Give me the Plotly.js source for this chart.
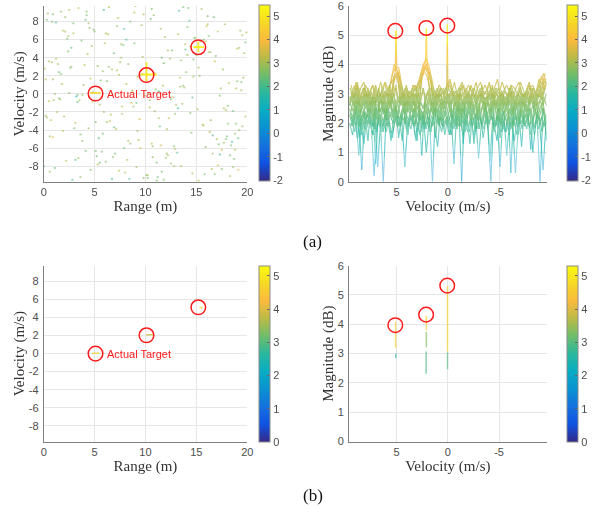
<!DOCTYPE html>
<html><head><meta charset="utf-8">
<script src="https://cdn.plot.ly/plotly-3.0.1.min.js"></script>
<style>html,body{margin:0;padding:0;background:#fff}#chart{width:597px;height:514px}</style>
</head><body><div id="chart"></div>
<script>
// ---------- (a) left: range-velocity map, sparse noise cells ----------
const noiseRange = [
0.4,3.1,7.8,12.5,18.2,1.6,5.9,9.3,14.7,19.1,2.3,6.6,11.2,16.4,0.9,4.5,8.7,13.1,17.6,10.4,
15.8,3.7,7.1,19.6,1.2,12.9,5.3,9.9,14.2,18.8,0.7,4.1,8.2,11.7,16.9,2.8,6.3,13.6,17.2,10.9,
19.3,1.9,5.6,9.1,14.9,3.3,7.5,12.2,16.1,0.3,18.5,4.8,8.9,11.4,15.3,2.1,6.8,13.9,17.9,10.1,
1.4,5.1,9.6,12.7,16.6,3.9,7.3,14.4,19.8,0.6,18.1,4.3,8.4,11.9,15.6,2.6,6.1,13.3,17.4,10.7,
19.0,1.1,5.8,9.4,14.1,3.5,7.9,12.4,16.3,0.8,18.7,4.6,8.1,11.1,15.1,2.4,6.5,13.7,17.7,10.3,
1.7,5.4,9.8,12.1,16.8,3.2,7.6,14.6,19.4,0.2,18.3,4.9,8.6,11.6,15.9,2.9,6.9,13.4,17.1,10.6,
19.7,1.3,5.2,9.2,14.3,3.6,7.2,12.8,16.2,0.5,18.9,4.2,8.3,11.3,15.4,2.2,6.4,13.2,17.8,10.2,
1.8,5.7,9.7,12.3,16.7,3.8,7.4,14.8,19.2,0.1,18.4,4.4,8.8,11.8,15.2,2.7,6.2,13.8,17.3,10.8,
19.5,1.5,5.5,9.5,14.5,3.4,7.7,12.6,16.5,0.9,18.6,4.7,8.5,11.5,15.7,2.5,6.7,13.5,17.5,10.5,
1.0,3.0,6.0,12.0,14.0,16.0,18.0,8.0,11.0,19.9,2.0,4.0,7.0,9.0,13.0,15.0,17.0,19.0,0.0,5.0,
0.6,2.9,5.5,8.3,11.6,13.9,16.4,18.9,1.7,4.1,7.4,9.8,12.2,14.6,17.1,19.5,0.3,3.4,6.2,10.6,
12.9,15.5,18.3,1.2,4.8,7.9,9.2,13.4,16.8,19.2,2.4,5.1,8.7,11.1,14.1,17.7,0.9,3.8,6.7,10.2,
12.5,15.9,18.6,1.5,4.4,7.2,9.5,13.7,16.2,19.8,2.1,5.8,8.1,11.8,14.9,17.3,0.5,3.1,6.4,10.9,
12.8,15.2,18.1,1.9,4.6,7.6,9.1,13.2,16.6,19.4,2.7,5.3,8.5,11.3,14.4,17.9,0.2,3.6,6.9,10.4,
12.1,15.7,18.8,1.1,4.2,7.7,9.7,13.5,16.1,19.1,2.5,5.9,8.9,11.5,14.7,17.5,0.8,3.3,6.1,10.7];
const noiseVel = [
8.9,-3.2,5.4,-7.7,1.2,-0.6,9.3,-5.1,3.8,-8.4,6.1,-2.3,-9.2,4.6,-4.8,7.3,0.4,-6.5,2.7,-1.5,
-8.9,5.9,-3.9,1.8,7.9,-6.1,3.1,-0.2,9.5,-4.4,-2.9,8.2,-7.3,0.9,4.2,-9.5,6.6,-1.1,-5.6,2.3,
7.0,-4.1,1.5,-8.1,5.2,-0.9,3.5,-6.8,8.6,-2.6,-5.3,0.2,9.0,-3.6,2.0,6.9,-7.0,4.9,-1.8,-9.0,
3.3,-6.3,7.6,-0.4,-4.6,1.0,8.4,-2.1,5.7,-8.6,-1.3,4.4,-9.4,6.3,-3.4,2.9,-7.5,9.2,0.6,-5.8,
5.0,-8.2,2.5,-2.8,7.4,-0.7,-6.0,3.9,-4.2,8.0,-7.2,1.7,6.0,-9.6,-1.7,4.7,-3.0,9.6,-5.4,0.0,
2.2,-4.9,8.8,-6.6,3.6,-0.3,5.5,-8.8,1.3,-2.4,-9.1,7.1,-1.0,4.0,-5.9,6.7,-3.7,0.8,-7.9,9.4,
4.5,-2.0,-6.9,1.9,8.1,-4.5,2.6,-8.0,6.4,-0.8,-3.3,9.1,-5.2,0.3,5.8,-7.4,3.0,-1.6,7.7,-9.3,
1.1,-6.4,4.1,-2.7,8.5,-0.1,-8.5,6.2,-4.0,2.8,-5.7,7.8,-1.4,3.4,-9.6,5.1,-3.1,0.7,-6.7,8.7,
6.5,-0.5,-7.6,2.1,-4.3,9.5,-2.2,4.8,-8.3,1.6,-1.9,5.3,-5.5,7.2,-3.5,0.1,-9.4,3.7,-6.2,8.3,
-0.7,-3.8,5.6,-7.1,2.4,7.5,-4.7,-8.7,0.5,6.8,-2.5,3.2,-6.6,9.7,-1.2,4.3,-5.0,1.4,-8.0,6.9,
-4.7,7.8,-1.2,3.3,-8.6,5.5,-2.9,0.6,9.1,-6.3,2.1,-9.3,4.8,-0.4,6.9,-3.6,8.2,-7.1,1.4,-5.5,
-2.2,9.4,-6.8,3.9,-0.9,7.2,-4.1,1.8,-8.9,5.1,6.4,-3.1,0.2,-7.6,4.3,-1.6,8.8,-5.2,2.7,-9.0,
-0.6,5.8,-8.1,2.4,-3.8,7.5,-6.0,0.9,4.6,-2.5,8.5,-4.4,1.1,-9.5,6.2,-0.2,3.6,-7.3,9.6,-1.9,
-5.8,2.9,-3.3,7.0,-8.4,4.0,-1.0,6.6,-6.6,0.4,3.0,-7.8,8.0,-2.7,5.3,-5.0,1.6,-9.2,4.5,-0.7,
-3.9,6.0,-6.2,0.0,8.7,-1.4,2.2,-8.0,7.7,-4.9,9.3,-2.0,5.6,-5.7,1.9,-8.3,3.5,-0.1,6.7,-7.0];
const noiseMag = [
2.8,3.1,2.4,2.9,3.3,2.6,1.9,3.0,2.7,3.4,2.5,3.2,2.2,2.9,3.5,2.7,3.0,2.1,2.8,3.3,
2.6,2.4,3.1,2.9,1.8,3.2,2.7,3.0,2.5,2.8,3.4,2.3,2.9,3.1,2.6,2.0,3.3,2.8,2.4,3.0,
2.7,3.2,2.5,2.9,3.6,2.2,2.8,3.1,2.6,3.0,1.7,2.9,3.3,2.4,2.7,3.1,2.8,2.3,3.2,2.6,
3.0,2.5,2.9,3.4,2.1,2.8,3.2,2.7,2.4,3.0,2.6,3.3,2.2,2.9,3.1,2.5,2.8,1.9,3.0,2.7,
3.2,2.4,2.8,3.5,2.6,3.0,2.3,2.9,3.1,2.7,2.5,3.2,2.0,2.8,3.0,2.6,3.4,2.4,2.9,3.1,
2.7,2.3,3.0,2.8,3.3,1.6,2.9,3.1,2.5,2.8,3.0,2.6,3.2,2.4,2.7,3.1,2.2,2.9,3.4,2.6,
2.8,3.0,2.5,3.2,2.1,2.7,3.0,2.9,2.4,3.3,2.6,2.8,3.1,2.3,2.9,3.2,2.7,1.8,3.0,2.5,
3.1,2.6,2.9,3.4,2.4,2.8,3.0,2.2,2.7,3.2,2.5,3.0,2.8,2.6,3.3,2.3,2.9,3.1,2.0,2.8,
3.2,2.7,2.4,3.0,2.6,3.5,2.8,2.5,3.1,2.9,2.3,3.0,2.7,2.9,3.2,2.6,1.7,2.8,3.4,2.4,
3.0,2.5,3.1,2.8,2.6,3.3,2.2,2.9,2.7,3.0,2.8,3.2,2.4,3.1,2.9,2.5,3.0,2.6,2.3,2.7,
2.9,2.5,3.1,2.7,2.3,3.0,2.8,3.3,2.6,2.4,3.1,2.7,2.9,2.2,3.2,2.8,2.5,3.0,2.6,3.4,
2.7,3.0,2.4,2.9,3.2,2.1,2.8,3.1,2.6,2.9,3.0,2.6,3.3,2.5,2.8,3.1,2.4,2.7,3.0,2.9,
2.6,3.2,2.8,2.3,3.0,2.7,3.4,2.5,2.9,3.1,2.8,2.4,3.0,2.7,3.2,2.6,2.9,1.9,3.1,2.8,
2.5,3.0,2.7,3.3,2.6,2.9,2.4,3.1,2.8,3.0,2.7,3.2,2.5,2.9,3.0,2.6,3.3,2.8,2.4,3.1,
2.9,2.6,3.0,2.8,2.5,3.2,2.7,2.9,3.1,2.3,3.0,2.8,2.6,3.4,2.9,2.7,3.1,2.5,3.0,2.8];
// target cells (cross-shaped spread), segments separated by null
const tlSegR = [4.55,5.6,null, 9.56,11.1,null, 10.1,10.1,null, 14.7,15.75,null, 15.19,15.19];
const tlSegV = [0.1,0.1,null, 2.14,2.14,null, 1.4,3.5,null, 5.16,5.16,null, 4.6,5.8];
const tlSegMag = [4.6, 5.1, 5.0, 5.2, 5.0];
const tlCircR = [5.09, 10.1, 15.19];
const tlCircV = [0.04, 2.08, 5.16];

// ---------- (a) right: magnitude vs velocity profiles ----------
const velA = [9.6,9.3,9.0,8.7,8.4,8.1,7.8,7.5,7.2,6.9,6.6,6.3,6.0,5.7,5.4,5.1,4.8,4.5,4.2,3.9,
3.6,3.3,3.0,2.7,2.4,2.1,1.8,1.5,1.2,0.9,0.6,0.3,0.0,-0.3,-0.6,-0.9,-1.2,-1.5,-1.8,-2.1,
-2.4,-2.7,-3.0,-3.3,-3.6,-3.9,-4.2,-4.5,-4.8,-5.1,-5.4,-5.7,-6.0,-6.3,-6.6,-6.9,-7.2,-7.5,-7.8,-8.1,
-8.4,-8.7,-9.0,-9.3,-9.6];
const velB = [9.45,9.15,8.85,8.55,8.25,7.95,7.65,7.35,7.05,6.75,6.45,6.15,5.85,5.55,5.25,4.95,4.65,4.35,4.05,3.75,
3.45,3.15,2.85,2.55,2.25,1.95,1.65,1.35,1.05,0.75,0.45,0.15,-0.15,-0.45,-0.75,-1.05,-1.35,-1.65,-1.95,-2.25,
-2.55,-2.85,-3.15,-3.45,-3.75,-4.05,-4.35,-4.65,-4.95,-5.25,-5.55,-5.85,-6.15,-6.45,-6.75,-7.05,-7.35,-7.65,-7.95,-8.25,
-8.55,-8.85,-9.15,-9.45];
const velC = [9.55,9.25,8.95,8.65,8.35,8.05,7.75,7.45,7.15,6.85,6.55,6.25,5.95,5.65,5.35,5.05,4.75,4.45,4.15,3.85,
3.55,3.25,2.95,2.65,2.35,2.05,1.75,1.45,1.15,0.85,0.55,0.25,-0.05,-0.35,-0.65,-0.95,-1.25,-1.55,-1.85,-2.15,
-2.45,-2.75,-3.05,-3.35,-3.65,-3.95,-4.25,-4.55,-4.85,-5.15,-5.45,-5.75,-6.05,-6.35,-6.65,-6.95,-7.25,-7.55,-7.85,-8.15,
-8.45,-8.75,-9.05,-9.35,-9.65];
const velD = [9.4,9.1,8.8,8.5,8.2,7.9,7.6,7.3,7.0,6.7,6.4,6.1,5.8,5.5,5.2,4.9,4.6,4.3,4.0,3.7,
3.4,3.1,2.8,2.5,2.2,1.9,1.6,1.3,1.0,0.7,0.4,0.1,-0.2,-0.5,-0.8,-1.1,-1.4,-1.7,-2.0,-2.3,
-2.6,-2.9,-3.2,-3.5,-3.8,-4.1,-4.4,-4.7,-5.0,-5.3,-5.6,-5.9,-6.2,-6.5,-6.8,-7.1,-7.4,-7.7,-8.0,-8.3,
-8.6,-8.9,-9.2,-9.5];
const prof1 = [2.7,3.1,2.4,2.9,1.6,2.8,3.2,2.5,2.9,2.2,3.0,2.6,2.1,3.3,2.7,2.4,2.9,3.1,2.3,2.8,
2.5,3.0,1.4,2.7,3.2,2.6,2.9,2.3,3.1,2.5,2.8,2.2,3.0,2.6,2.9,1.8,3.2,2.4,2.7,3.0,
2.5,2.9,2.1,3.3,2.6,2.8,2.3,3.1,2.7,1.5,2.9,2.5,3.2,2.7,2.4,3.0,2.6,2.8,2.2,3.1,2.5,2.9,3.3,2.6,3.0];
const prof2 = [2.4,2.9,3.3,2.6,2.2,3.0,2.7,1.9,2.8,3.2,2.5,2.9,2.3,3.1,2.6,2.0,2.8,3.0,2.4,2.7,
3.2,2.5,2.9,1.7,2.6,3.1,2.8,2.3,3.0,2.5,2.7,3.2,2.4,2.9,2.6,3.0,2.2,2.8,3.1,2.5,
1.3,2.7,3.0,2.6,2.9,2.3,3.2,2.5,2.8,3.0,2.4,2.7,3.1,1.9,2.9,2.6,3.0,2.4,2.8,3.2,2.6,2.9,3.4,3.1];
const prof3 = [2.0,1.6,2.4,0.9,2.2,1.8,2.5,2.1,0.2,1.9,2.3,1.7,2.6,2.0,1.5,2.4,1.9,2.2,0.5,2.1,
1.8,2.5,2.0,1.6,2.3,1.0,2.2,1.9,2.6,2.1,1.7,2.4,2.0,2.3,1.8,2.5,2.1,1.6,2.2,2.6,
1.9,2.3,0.8,2.1,2.5,1.8,2.2,2.0,1.4,2.4,2.1,1.7,2.5,2.2,0.3,2.0,2.4,1.9,2.3,1.6,2.2,2.6,1.8,0.4,2.1];
const prof4 = [3.1,2.8,3.4,2.9,3.2,2.6,3.0,3.3,2.7,3.1,2.9,3.4,2.8,3.4,4.0,3.8,3.4,2.9,3.3,2.6,
3.0,3.2,3.3,3.8,4.1,3.9,3.5,2.7,3.2,2.9,3.1,2.8,3.4,3.0,2.6,3.2,2.9,3.1,2.8,3.3,
3.0,2.7,3.2,2.9,3.1,3.4,2.8,3.0,3.2,2.7,3.1,2.9,3.3,3.0,2.8,3.2,2.9,3.1,3.4,3.0,2.8,3.3,3.6,3.2];
const prof5 = [2.5,2.2,2.8,1.9,2.6,2.3,1.4,2.7,2.4,2.9,2.1,0.0,2.5,2.8,2.2,2.6,1.9,2.4,2.7,1.6,
2.5,2.2,2.9,2.4,1.8,2.6,2.3,2.7,1.5,2.5,2.1,2.8,2.4,1.9,2.6,2.2,2.7,1.3,2.5,2.8,
2.3,1.7,2.6,2.4,2.9,2.1,0.0,2.5,2.7,2.2,1.8,2.6,2.3,2.8,2.4,1.6,2.7,2.2,2.5,1.1,2.6,2.3,2.8,2.4,2.1];
const prof6 = [2.9,2.6,3.2,2.3,2.8,3.0,2.5,2.9,0.6,2.7,3.1,2.4,2.8,2.6,3.0,2.2,2.9,2.7,3.1,2.5,
2.8,3.0,2.6,0.9,2.7,3.1,2.4,2.9,2.6,3.2,2.5,2.8,3.0,2.3,2.9,2.7,0.0,2.6,3.0,2.8,
2.4,2.9,3.1,2.5,2.7,3.0,2.6,2.8,2.2,3.1,2.7,2.9,0.3,2.6,3.0,2.5,2.8,3.1,2.7,2.9,2.4,3.0,2.8,3.3];
const prof7 = [2.3,1.9,2.6,2.1,0.4,2.4,2.0,2.7,1.8,2.3,2.5,2.0,1.7,2.4,2.2,2.6,1.5,2.3,2.0,2.5,
2.2,1.9,2.6,2.1,2.4,1.8,2.3,0.0,2.5,2.0,2.4,1.6,2.2,2.6,2.0,2.3,1.9,2.5,2.1,1.7,
2.4,2.2,2.6,1.9,2.3,2.0,2.5,1.8,2.2,0.5,2.4,2.1,1.6,2.5,2.3,2.0,2.6,1.9,2.2,2.4,1.8,2.3,0.0,2.5,2.2];
const prof8 = [3.3,2.9,3.1,2.7,3.2,2.8,3.0,2.6,3.3,2.9,2.7,3.1,3.0,2.5,3.6,3.7,2.8,3.0,2.6,3.1,
2.9,3.3,2.7,3.5,3.9,3.7,2.6,3.1,2.9,2.7,3.2,3.0,2.8,3.1,2.7,2.9,3.3,2.6,3.0,2.8,
3.2,2.9,2.7,3.1,3.0,2.8,3.3,2.6,2.9,3.1,2.8,3.0,3.2,2.7,2.9,3.1,2.6,3.0,3.3,2.8,3.1,2.9,3.2,3.5];
const prof9 = [2.6,2.9,2.3,2.7,2.5,3.0,2.2,2.8,2.6,1.7,2.9,2.4,2.7,3.0,2.3,2.8,2.5,2.1,2.9,2.6,
2.4,2.8,2.2,2.7,2.5,3.0,2.3,2.6,2.9,2.1,2.7,2.5,2.8,2.4,0.6,2.6,2.9,2.3,2.7,2.5,
2.8,2.2,2.6,2.9,2.4,2.7,2.5,2.8,2.1,2.6,2.9,2.4,2.7,2.3,2.8,2.5,1.2,2.6,2.9,2.4,2.7,2.2,2.5,2.8,1.6];
const prof10 = [1.9,2.3,1.5,2.1,2.4,1.8,2.2,1.6,2.5,2.0,1.7,2.3,2.1,1.4,2.4,1.9,2.2,2.6,1.8,2.0,
2.3,1.5,2.1,2.4,1.9,2.2,1.7,2.5,2.0,2.3,1.8,2.1,1.6,2.4,2.2,1.9,2.5,2.0,1.7,2.3,
2.1,1.8,2.4,1.5,2.2,2.0,2.6,1.9,2.3,1.7,2.1,2.4,1.8,2.2,1.6,2.5,2.0,2.3,1.9,2.1,2.4,1.8,2.2,1.9];
const prof11 = [3.2,2.9,3.4,3.0,2.7,3.3,3.1,2.8,3.2,3.0,3.4,2.9,3.1,3.3,3.5,3.6,3.3,2.9,3.2,3.0,
2.8,3.3,3.1,3.4,3.8,3.6,3.2,3.0,2.9,3.3,3.1,2.8,3.2,3.0,3.4,2.9,3.1,3.3,2.7,3.2,
3.0,3.4,2.9,3.1,3.3,3.0,2.8,3.2,3.5,2.9,3.1,3.3,3.0,2.8,3.2,3.4,3.0,2.9,3.3,3.1,2.8,3.2,3.4,3.7,3.3];
const prof12 = [2.2,1.7,2.4,1.9,1.3,2.3,2.0,1.6,2.5,2.1,1.8,2.4,2.2,1.5,2.0,2.3,1.9,2.5,1.7,2.2,
2.0,1.4,2.3,2.1,1.8,2.5,2.2,1.9,1.2,2.4,2.0,2.2,1.6,2.3,1.9,2.5,2.1,1.7,2.4,2.0,
1.5,2.3,2.1,1.8,2.4,0.7,2.2,1.9,2.5,2.0,1.7,2.3,2.1,1.4,2.4,2.0,2.2,1.8,2.5,1.0,2.1,2.3,1.7,2.2];
const prof13 = [2.7,2.4,2.9,2.2,2.8,2.5,3.0,2.3,2.7,2.6,2.4,2.9,2.1,2.7,3.4,3.9,3.6,2.6,3.0,2.4,
2.7,2.2,2.8,3.5,3.9,4.0,3.6,2.8,2.4,1.9,2.7,2.5,2.9,2.2,2.6,2.8,2.4,2.7,2.3,2.9,
2.5,2.7,1.8,2.6,2.4,2.8,2.2,2.7,2.5,2.9,2.3,2.6,2.8,2.4,2.7,2.1,2.9,2.5,2.6,2.8,2.4,2.7,2.3,2.9,2.6];
const prof14 = [3.0,3.3,2.8,3.2,3.4,2.9,3.1,3.3,3.0,2.8,3.2,3.4,3.1,2.9,3.5,3.8,3.4,3.0,3.2,2.9,
3.3,3.1,3.4,3.6,3.9,3.8,3.4,3.1,2.9,3.2,3.0,3.3,3.5,3.1,2.9,3.2,3.4,3.0,3.3,3.1,
2.8,3.2,3.4,3.0,3.1,3.3,2.9,3.2,3.0,3.4,3.1,2.9,3.3,3.2,3.0,3.4,3.1,2.8,3.2,3.3,3.0,3.5,3.3,3.7];
const prof15 = [2.4,2.0,2.6,1.5,2.3,2.1,2.5,1.8,2.4,0.5,2.2,2.6,1.9,2.3,2.0,2.5,2.2,1.4,2.4,2.1,
2.6,1.9,2.3,2.5,2.0,2.4,1.7,2.2,2.6,2.3,1.9,2.5,2.1,1.6,2.4,2.2,2.6,2.0,2.3,1.3,
2.5,2.1,2.4,1.9,2.6,2.2,2.3,1.7,2.5,2.0,2.4,0.9,2.2,2.6,2.1,2.3,1.8,2.5,2.2,2.4,1.6,2.3,2.0,2.5,1.4];
const prof16 = [2.8,3.0,2.5,2.9,2.6,3.1,2.4,2.8,3.0,2.6,2.9,2.3,2.7,3.0,3.6,3.7,2.6,3.1,2.4,2.9,
2.7,3.0,2.5,3.7,4.0,3.7,3.3,2.4,2.7,3.0,2.6,2.8,2.5,2.9,3.1,2.3,2.7,2.9,2.6,3.0,
2.4,2.8,3.0,2.6,2.9,2.5,2.7,3.1,2.8,2.4,2.9,2.6,3.0,2.7,2.5,2.9,2.8,3.1,2.6,2.9,2.7,3.0,2.8,3.2];
const profT1 = [2.8,3.0,2.5,3.2,2.7,2.9,2.4,3.1,2.6,2.8,3.0,2.3,2.9,3.2,3.7,3.9,3.9,3.3,2.6,3.0,
2.7,2.4,3.1,2.8,2.5,2.9,3.2,2.6,2.8,3.0,2.4,2.9,2.7,3.1,2.5,2.8,3.0,2.6,2.9,2.3,
3.1,2.7,2.8,3.0,2.5,2.9,3.2,2.6,2.8,2.4,3.0,2.7,2.9,3.1,2.6,2.8,2.4,3.0,2.7,2.9,3.2,2.6,2.8,3.1,3.4];
const profT2 = [2.6,2.9,3.2,2.4,2.8,3.0,2.5,2.7,3.1,2.3,2.9,2.6,3.0,2.8,2.4,3.2,2.7,2.9,2.5,3.1,
2.8,2.6,3.3,3.6,4.0,4.2,3.9,3.4,2.7,3.0,2.5,2.9,2.8,2.6,3.1,2.4,2.9,2.7,3.2,2.5,
2.8,3.0,2.6,2.9,2.3,3.1,2.7,2.8,3.0,2.5,2.9,2.6,3.2,2.4,2.8,3.0,2.7,2.5,3.1,2.8,2.6,3.0,2.9,3.3,3.5];
const profT3 = [2.9,2.7,3.1,2.6,2.8,3.2,2.5,2.9,2.7,3.0,2.4,2.8,3.1,2.6,2.9,3.3,2.7,3.0,2.5,2.8,
3.1,2.6,2.9,2.7,3.2,2.4,2.8,3.0,2.6,2.9,2.7,3.1,3.3,3.2,2.8,2.5,3.0,2.7,2.9,2.6,
3.1,2.8,2.4,3.0,2.7,2.9,3.2,2.6,2.8,3.0,2.5,2.9,2.7,3.1,2.8,2.6,3.0,2.9,2.4,3.2,2.7,2.8,3.1,3.0,3.3];
const peakVel = [5.14,5.06,4.98,null,2.18,2.1,2.02,null,0.11,0.05,-0.01];
const peakMag = [3.8,5.16,3.9,null,4.1,5.24,4.0,null,3.3,5.37,3.2];
const trCircV = [5.13, 2.1, 0.05];
const trCircM = [5.15, 5.25, 5.33];

// ---------- (b) after processing ----------
const blSegR = [4.75,5.45,null, 10.05,10.75,null, 15.3,15.6];
const blSegV = [0.05,0.05,null, 2.1,2.1,null, 5.1,5.1];
const blSegMag = [4.6, 3.8, 4.8];
const blCircR = [5.09, 10.1, 15.19];
const blCircV = [0.0, 2.03, 5.14];
const brSegV = [5.1,5.1,null, 5.08,5.08,null, 2.1,2.1,null, 2.1,2.1,null, 2.12,2.12,null, 0.03,0.03,null, 0.03,0.03];
const brSegM = [4.09,3.2,null, 3.0,2.84,null, 4.29,3.8,null, 3.75,3.22,null, 3.07,2.31,null, 5.31,3.07,null, 3.05,2.47];
const brSegMag = [4.6, 2.6, 4.6, 3.3, 2.9, 4.7, 3.0];
const brCircV = [5.13, 2.12, 0.06];
const brCircM = [3.97, 4.33, 5.32];

const rangeTicks = [0,5,10,15,20];
const velTicks = [-8,-6,-4,-2,0,2,4,6,8];
const profVelTicks = [5,0,-5];
const magTicks = [0,1,2,3,4,5,6];
const cbTicksA = [-2,-1,0,1,2,3,4,5];
const cbTicksB = [0,1,2,3,4,5];

// ---------- colour map ----------
const PARULA = [[0,'rgb(53,42,135)'],[0.1,'rgb(15,82,225)'],[0.2,'rgb(20,113,222)'],[0.3,'rgb(10,145,210)'],
[0.4,'rgb(8,172,196)'],[0.5,'rgb(40,184,158)'],[0.6,'rgb(110,189,108)'],[0.7,'rgb(185,187,70)'],
[0.8,'rgb(250,186,62)'],[0.9,'rgb(246,216,38)'],[1,'rgb(249,251,14)']];
const stops = PARULA.map(s => [s[0], s[1].match(/\d+/g).map(Number)]);
function parula(t){
  t = Math.max(0, Math.min(1, t));
  for (let i = 0; i < stops.length - 1; i++) {
    const [a, ca] = stops[i], [b, cb] = stops[i+1];
    if (t <= b) { const f = (t - a) / (b - a);
      return 'rgb(' + ca.map((c, k) => Math.round(c + (cb[k] - c) * f)).join(',') + ')'; }
  }
  return PARULA[PARULA.length-1][1];
}
const CA = {cmin:-2.06, cmax:5.45};
const CB = {cmin:0, cmax:5.3};

// line profiles coloured by magnitude value (like a mesh)
function gradientLines(lines, c, nb, sub, xa, ya, width){
  const bins = []; for (let b = 0; b < nb; b++) bins.push({x:[], y:[]});
  lines.forEach(([xs, ys]) => {
    for (let i = 0; i < xs.length - 1; i++) {
      const x0 = xs[i], y0 = ys[i], x1 = xs[i+1], y1 = ys[i+1];
      if (x0 == null || y0 == null || x1 == null || y1 == null) continue;
      for (let k = 0; k < sub; k++) {
        const ta = k / sub, tb = (k + 1) / sub;
        const xa0 = x0 + (x1 - x0) * ta, ya0 = y0 + (y1 - y0) * ta;
        const xb0 = x0 + (x1 - x0) * tb, yb0 = y0 + (y1 - y0) * tb;
        const m = (ya0 + yb0) / 2;
        let b = Math.floor((m - c.cmin) / (c.cmax - c.cmin) * nb);
        b = Math.max(0, Math.min(nb - 1, b));
        bins[b].x.push(xa0, xb0, null); bins[b].y.push(ya0, yb0, null);
      }
    }
  });
  return bins.map((bn, b) => {
    const val = c.cmin + (b + 0.5) / nb * (c.cmax - c.cmin);
    return {type:'scatter', mode:'lines', x:bn.x, y:bn.y, xaxis:xa, yaxis:ya,
      line:{color:parula((b + 0.5) / nb), width:width}, opacity: val < 1.3 ? 0.45 : (val < 1.9 ? 0.65 : 0.8),
      hoverinfo:'skip', showlegend:false};
  }).filter(t => t.x.length);
}
function pieces(xs, ys, mags, c, xa, ya, width, opacity){
  const out = []; let cx = [], cy = [], p = 0;
  const flush = () => { if (cx.length) {
    out.push({type:'scatter', mode:'lines', x:cx, y:cy, xaxis:xa, yaxis:ya,
      line:{color:parula((mags[p] - c.cmin) / (c.cmax - c.cmin)), width:width}, opacity:opacity,
      hoverinfo:'skip', showlegend:false});
    p++; cx = []; cy = []; } };
  for (let i = 0; i < xs.length; i++) { if (xs[i] == null) flush(); else { cx.push(xs[i]); cy.push(ys[i]); } }
  flush(); return out;
}
function dummyBar(xa, ya, ca, v){
  return {type:'scatter', mode:'markers', x:[null], y:[null], xaxis:xa, yaxis:ya,
    marker:{color:[v], coloraxis:ca, size:1}, hoverinfo:'skip', showlegend:false};
}

const traces = [];
traces.push({type:'scatter', mode:'markers', x:noiseRange, y:noiseVel, xaxis:'x', yaxis:'y',
  marker:{color:noiseMag, coloraxis:'coloraxis', size:1.7, symbol:'square', line:{width:0}}, opacity:0.8,
  hoverinfo:'skip', showlegend:false});
traces.push(...pieces(tlSegR, tlSegV, tlSegMag, CA, 'x', 'y', 1.8, 0.9));

const profiles = [[velA,prof1],[velB,prof2],[velA,prof3],[velB,prof4],[velA,prof5],[velB,prof6],
  [velA,prof7],[velB,prof8],[velA,prof9],[velB,prof10],[velC,prof11],[velD,prof12],[velC,prof13],
  [velD,prof14],[velC,prof15],[velD,prof16],[velA,profT1],[velA,profT2],[velA,profT3],[peakVel,peakMag]];
traces.push(...gradientLines(profiles, CA, 30, 3, 'x2', 'y2', 1.1));
traces.push(dummyBar('x2', 'y2', 'coloraxis2', 0));

traces.push(...pieces(blSegR, blSegV, blSegMag, CB, 'x3', 'y3', 1.5, 0.8));
traces.push(dummyBar('x3', 'y3', 'coloraxis3', 0));
traces.push(...pieces(brSegV, brSegM, brSegMag, CB, 'x4', 'y4', 1.5, 0.65));
traces.push(dummyBar('x4', 'y4', 'coloraxis4', 0));

// ---------- layout ----------
const tickFont = () => ({family:'Liberation Sans, Arial, sans-serif', size:11, color:'#4d4d4d'});
const titleFont = () => ({family:'Liberation Serif, Times New Roman, serif', size:15, color:'#333333'});
function ax(o, isX){
  return Object.assign({color:'#4d4d4d', showgrid:true, gridcolor:'#e6e6e6', gridwidth:1, zeroline:false, showline:true,
    linecolor:'#808080', linewidth:1, ticks:isX ? '' : 'outside', ticklen:isX ? 0 : 2, tickcolor:'rgba(0,0,0,0)',
    tickfont:tickFont(), fixedrange:true, tickmode:'array', ticklabeloverflow:'allow'}, o);
}
const lab = v => v.map(String);
const yTop = [0.6465, 0.9883], yBot = [0.1410, 0.4831];
const xLeft = [0.0732, 0.4142], xRight = [0.5846, 0.9157];
function cbar(x, y, len, ticks){
  return {x:x, xanchor:'left', xref:'paper', xpad:0, ypad:0, y:y, yanchor:'middle', len:len, lenmode:'fraction',
    thickness:11, thicknessmode:'pixels', outlinecolor:'#8c8c8c', outlinewidth:1, tickmode:'array',
    tickvals:ticks, ticktext:lab(ticks), ticks:'inside', ticklen:3, tickcolor:'#666', tickfont:tickFont()};
}
const shapes = [];
function circles(xs, ys, xa, ya){
  xs.forEach((x, i) => shapes.push({type:'circle', xref:xa, yref:ya, xsizemode:'pixel', ysizemode:'pixel',
    xanchor:x, yanchor:ys[i], x0:-7.3, x1:7.3, y0:-7.3, y1:7.3, line:{color:'#ff1a1a', width:1.5}}));
}
circles(tlCircR, tlCircV, 'x', 'y');
circles(trCircV, trCircM, 'x2', 'y2');
circles(blCircR, blCircV, 'x3', 'y3');
circles(brCircV, brCircM, 'x4', 'y4');

const layout = {
  width:597, height:514, margin:{l:0, r:0, t:0, b:0}, paper_bgcolor:'#ffffff', plot_bgcolor:'#ffffff',
  showlegend:false, hovermode:false,
  xaxis: ax({domain:xLeft, anchor:'y', range:[0,20], tickvals:rangeTicks, ticktext:lab(rangeTicks),
    title:{text:'Range (m)', font:titleFont(), standoff:1}}, true),
  yaxis: ax({domain:yTop, anchor:'x', range:[-9.72,9.72], tickvals:velTicks, ticktext:lab(velTicks),
    title:{text:'Velocity (m/s)', font:titleFont(), standoff:0}}, false),
  xaxis2: ax({domain:xRight, anchor:'y2', range:[9.65,-9.65], tickvals:profVelTicks, ticktext:lab(profVelTicks),
    title:{text:'Velocity (m/s)', font:titleFont(), standoff:1}}, true),
  yaxis2: ax({domain:yTop, anchor:'x2', range:[0,6], tickvals:magTicks, ticktext:lab(magTicks),
    title:{text:'Magnitude (dB)', font:titleFont(), standoff:0}}, false),
  xaxis3: ax({domain:xLeft, anchor:'y3', range:[0,20], tickvals:rangeTicks, ticktext:lab(rangeTicks),
    title:{text:'Range (m)', font:titleFont(), standoff:1}}, true),
  yaxis3: ax({domain:yBot, anchor:'x3', range:[-9.75,9.75], tickvals:velTicks, ticktext:lab(velTicks),
    title:{text:'Velocity (m/s)', font:titleFont(), standoff:0}}, false),
  xaxis4: ax({domain:xRight, anchor:'y4', range:[9.65,-9.65], tickvals:profVelTicks, ticktext:lab(profVelTicks),
    title:{text:'Velocity (m/s)', font:titleFont(), standoff:1}}, true),
  yaxis4: ax({domain:yBot, anchor:'x4', range:[0,6], tickvals:magTicks, ticktext:lab(magTicks),
    title:{text:'Magnitude (dB)', font:titleFont(), standoff:0}}, false),
  coloraxis: {cmin:CA.cmin, cmax:CA.cmax, colorscale:PARULA, colorbar:cbar(0.4343, 0.8181, 0.3432, cbTicksA)},
  coloraxis2:{cmin:CA.cmin, cmax:CA.cmax, colorscale:PARULA, colorbar:cbar(0.9493, 0.8181, 0.3432, cbTicksA)},
  coloraxis3:{cmin:CB.cmin, cmax:CB.cmax, colorscale:PARULA, colorbar:cbar(0.4343, 0.3113, 0.3424, cbTicksB)},
  coloraxis4:{cmin:CB.cmin, cmax:CB.cmax, colorscale:PARULA, colorbar:cbar(0.9503, 0.3113, 0.3424, cbTicksB)},
  shapes: shapes,
  annotations: [
    {text:'Actual Target', xref:'x', yref:'y', x:6.02, y:-0.04, xanchor:'left', yanchor:'middle', showarrow:false,
     font:{family:'Liberation Sans, Arial, sans-serif', size:11, color:'#ff1a1a'}},
    {text:'Actual Target', xref:'x3', yref:'y3', x:6.02, y:-0.08, xanchor:'left', yanchor:'middle', showarrow:false,
     font:{family:'Liberation Sans, Arial, sans-serif', size:11, color:'#ff1a1a'}},
    {text:'(a)', xref:'paper', yref:'paper', x:312/597, y:1-241/514, xanchor:'center', yanchor:'middle', showarrow:false,
     font:{family:'Liberation Serif, Times New Roman, serif', size:17, color:'#111'}},
    {text:'(b)', xref:'paper', yref:'paper', x:313/597, y:1-495/514, xanchor:'center', yanchor:'middle', showarrow:false,
     font:{family:'Liberation Serif, Times New Roman, serif', size:17, color:'#111'}}
  ]
};
Plotly.newPlot('chart', traces, layout, {staticPlot:true, displayModeBar:false});
</script></body></html>
